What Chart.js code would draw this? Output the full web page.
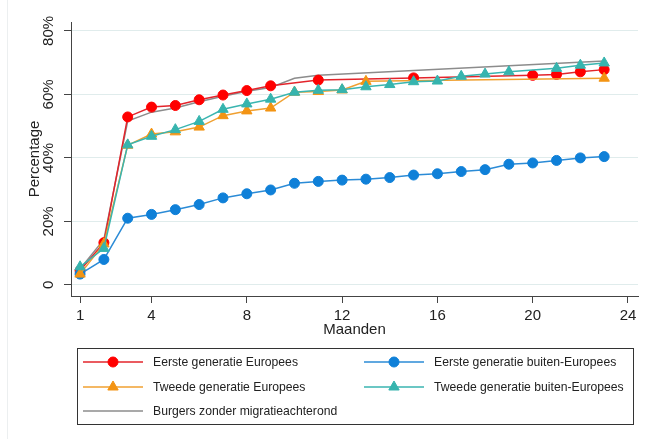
<!DOCTYPE html>
<html>
<head>
<meta charset="utf-8">
<script src="https://cdn.jsdelivr.net/npm/chart.js@4.4.1/dist/chart.umd.min.js"></script>
<style>
  html, body { margin: 0; padding: 0; background: #fff; }
  #wrap { position: relative; width: 645px; height: 439px; }
</style>
</head>
<body>
<div id="wrap"><canvas id="chart" width="645" height="439"></canvas></div>
<script>
/* Data (null = no marker in the source, line just runs through) */
const months = [1,2,3,4,5,6,7,8,9,10,11,12,13,14,15,16,17,18,19,20,21,22,23];
const xTicks = [1,4,8,12,16,20,24];
const yTicks = [0,20,40,60,80];

const eersteEuropees = [4.5,13.3,52.9,56.0,56.5,58.3,59.8,61.2,62.7,null,64.5,null,null,null,65.2,null,null,null,null,66.0,66.3,67.1,67.8];
const eersteBuiten   = [3.4,8.0,21.0,22.2,23.7,25.3,27.4,28.7,29.9,32.0,32.6,33.0,33.3,33.8,34.6,35.0,35.7,36.3,38.0,38.4,39.2,40.0,40.4];
const tweedeEuropees = [3.4,12.9,44.0,47.5,48.2,49.7,53.3,54.8,55.7,60.7,60.9,61.4,64.1,null,null,null,null,null,null,null,null,null,65.1];
const tweedeBuiten   = [5.7,11.5,44.1,46.8,48.9,51.5,55.3,57.0,58.5,60.7,61.3,61.5,62.4,63.1,64.0,64.2,65.7,66.4,67.1,null,68.2,69.2,69.9];
const zonderMigratie = [5.0,14.3,51.6,54.4,55.7,57.7,59.4,61.0,62.2,65.1,66.0,null,null,null,null,null,null,null,null,null,null,null,70.5];

const labels = [
  'Eerste generatie Europees',
  'Eerste generatie buiten-Europees',
  'Tweede generatie Europees',
  'Tweede generatie buiten-Europees',
  'Burgers zonder migratieachterond'
];

function pts(vals){
  return months.map((m, i) => ({x: m, y: vals[i]}));
}

const FONT = "'Liberation Sans', Arial, sans-serif";

let datasets = [
  {label: labels[0], data: pts(eersteEuropees), borderColor: '#e3242b', backgroundColor: '#ff0000',
   pointBorderColor: '#ff0000', pointStyle: 'circle', pointRadius: 5, borderWidth: 1.5, order: 4},
  {label: labels[1], data: pts(eersteBuiten), borderColor: '#2b8bd6', backgroundColor: '#0f80d8',
   pointBorderColor: '#0f80d8', pointStyle: 'circle', pointRadius: 5, borderWidth: 1.5, order: 3},
  {label: labels[2], data: pts(tweedeEuropees), borderColor: '#f0a030', backgroundColor: '#f39414',
   pointBorderColor: '#f39414', pointStyle: 'triangle', pointRadius: 6, borderWidth: 1.5, order: 2},
  {label: labels[3], data: pts(tweedeBuiten), borderColor: '#3ab5b0', backgroundColor: '#36b4ae',
   pointBorderColor: '#36b4ae', pointStyle: 'triangle', pointRadius: 6, borderWidth: 1.5, order: 1},
  {label: labels[4], data: pts(zonderMigratie), borderColor: '#8c8c8c', backgroundColor: '#8c8c8c',
   pointRadius: 0, borderWidth: 1.5, order: 5}
];
datasets.forEach(d => {
  d.tension = 0; d.fill = false; d.spanGaps = true;
  d.pointBorderWidth = 1; d.pointBackgroundColor = d.backgroundColor;
});

/* legend box below the plot, drawn from the dataset styles */
const boxLegend = {
  id: 'boxLegend',
  afterDraw(chart){
    const ctx = chart.ctx;
    ctx.save();
    // faint figure border on the left
    ctx.strokeStyle = '#eceff0';
    ctx.lineWidth = 1;
    ctx.beginPath(); ctx.moveTo(7.5, 0); ctx.lineTo(7.5, 439); ctx.stroke();

    ctx.strokeStyle = '#333';
    ctx.strokeRect(77.5, 348.5, 556, 76);
    const cols = [{x0: 83, x1: 143, tx: 153}, {x0: 364, x1: 424, tx: 434}];
    const rows = [362, 387, 411];
    ctx.font = "12.2px " + FONT;
    ctx.textBaseline = 'middle';
    chart.data.datasets.forEach((d, i) => {
      const c = cols[i % 2], y = rows[Math.floor(i / 2)];
      ctx.strokeStyle = d.borderColor;
      ctx.lineWidth = 1.5;
      ctx.beginPath(); ctx.moveTo(c.x0, y); ctx.lineTo(c.x1, y); ctx.stroke();
      if (d.pointRadius > 0) {
        ctx.fillStyle = d.backgroundColor;
        ctx.strokeStyle = d.pointBorderColor;
        ctx.lineWidth = 1;
        Chart.helpers.drawPoint(ctx, {pointStyle: d.pointStyle, radius: d.pointRadius, rotation: 0, borderWidth: 1},
          (c.x0 + c.x1) / 2, y);
      }
      ctx.fillStyle = '#222';
      ctx.textAlign = 'left';
      ctx.fillText(d.label, c.tx, y + 0.5);
    });
    ctx.restore();
  }
};

const ctx = document.getElementById('chart');
const chart = new Chart(ctx, {
  type: 'line',
  data: {datasets: datasets},
  options: {
    responsive: false,
    animation: false,
    layout: {padding: {left: 20, right: 6, top: 22, bottom: 100}},
    plugins: {legend: {display: false}, tooltip: {enabled: false}},
    scales: {
      x: {
        type: 'linear',
        min: 0.62, max: 24.42,
        afterBuildTicks: (s) => { s.ticks = xTicks.map(v => ({value: v})); },
        afterFit: (s) => { s.height = 43; },
        grid: {drawOnChartArea: false, tickLength: 7, tickColor: '#444', tickWidth: 1},
        border: {color: '#444', width: 1},
        ticks: {color: '#222', font: {family: FONT, size: 15}, padding: 4, maxRotation: 0, autoSkip: false},
        title: {display: true, text: 'Maanden', color: '#222', font: {family: FONT, size: 15, lineHeight: 1.2}, padding: {top: 0, bottom: 0}}
      },
      y: {
        min: -3.5, max: 82.8,
        afterBuildTicks: (s) => { s.ticks = yTicks.map(v => ({value: v})); },
        afterFit: (s) => { s.width = 51; },
        grid: {color: '#e0ecec', lineWidth: 1, tickLength: 7, tickColor: '#444', tickWidth: 1},
        border: {color: '#444', width: 1},
        ticks: {color: '#222', font: {family: FONT, size: 15}, padding: 0, minRotation: 90, maxRotation: 90,
          crossAlign: 'center', autoSkip: false, callback: (v) => v === 0 ? '0' : v + '%'},
        title: {display: true, text: 'Percentage', color: '#222', font: {family: FONT, size: 15, lineHeight: 1.2}, padding: {top: 6, bottom: 0}}
      }
    }
  },
  plugins: [boxLegend]
});
</script>
</body>
</html>
